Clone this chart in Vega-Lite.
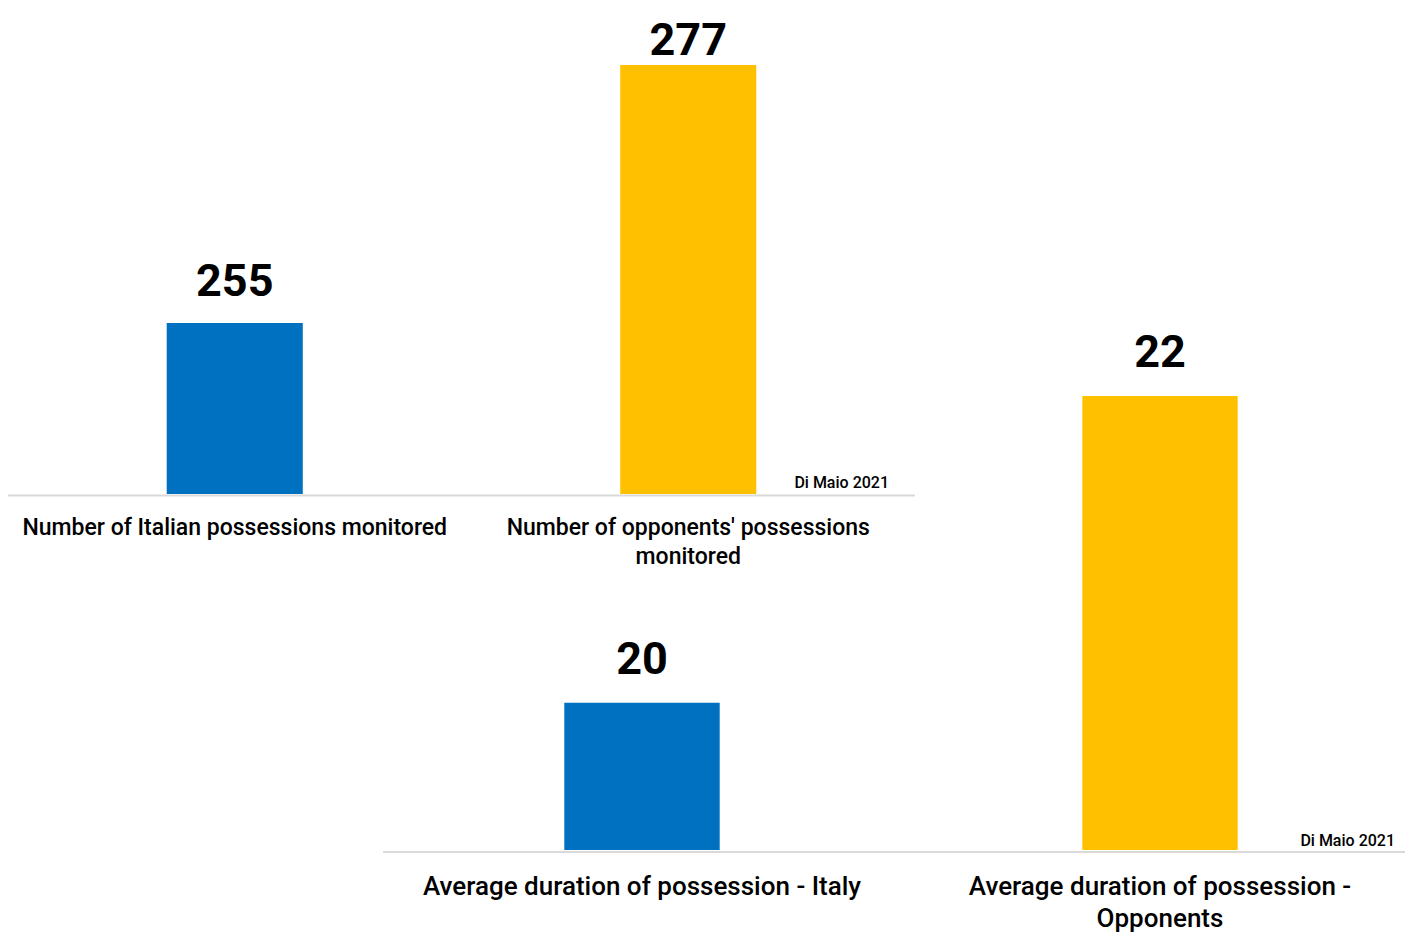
{
  "$schema": "https://vega.github.io/schema/vega-lite/v6.json",
  "width": 1405,
  "height": 934,
  "padding": 0,
  "autosize": {"type": "none"},
  "background": "white",
  "config": {
    "view": {"stroke": null},
    "font": "Roboto",
    "axis": {"disable": true},
    "text": {"color": "#000000"}
  },
  "datasets": {
    "bars": [
      {"panel": "A", "category": "Number of Italian possessions monitored", "team": "Italy", "value": 255},
      {"panel": "A", "category": "Number of opponents' possessions\nmonitored", "team": "Opponents", "value": 277},
      {"panel": "B", "category": "Average duration of possession - Italy", "team": "Italy", "value": 20},
      {"panel": "B", "category": "Average duration of possession -\nOpponents", "team": "Opponents", "value": 22}
    ],
    "notes": [
      {"panel": "A", "note": "Di Maio 2021"},
      {"panel": "B", "note": "Di Maio 2021"}
    ]
  },
  "layer": [
    {
      "layer": [
        {
          "data": {"name": "notes"},
          "transform": [{"filter": "datum.panel === 'A'"}],
          "layer": [
            {
              "mark": {"type": "rule", "color": "#d9d9d9", "strokeWidth": 2},
              "encoding": {
                "x": {"datum": 0, "type": "quantitative", "scale": {"domain": [0, 1], "range": [8, 915]}, "axis": null},
                "x2": {"datum": 1},
                "y": {"datum": 240.3, "type": "quantitative", "axis": null}
              }
            },
            {
              "mark": {"type": "text", "align": "right", "baseline": "alphabetic", "dx": -26, "dy": -6, "fontSize": 16, "fontWeight": 500},
              "encoding": {
                "x": {"datum": 1, "type": "quantitative", "axis": null},
                "y": {"datum": 240.42, "type": "quantitative", "axis": null},
                "text": {"field": "note"}
              }
            }
          ]
        },
        {
          "data": {"name": "bars"},
          "transform": [{"filter": "datum.panel === 'A'"}],
          "encoding": {
            "x": {
              "field": "category", "type": "nominal", "sort": null, "axis": null,
              "scale": {
                "domain": ["Number of Italian possessions monitored", "Number of opponents' possessions\nmonitored"],
                "range": [8, 915], "paddingInner": 0.7, "paddingOuter": 0.35
              }
            }
          },
          "layer": [
            {
              "mark": {"type": "bar"},
              "encoding": {
                "y": {"field": "value", "type": "quantitative", "axis": null, "scale": {"domain": [240.42, 277], "range": [494, 65], "zero": false, "nice": false}},
                "y2": {"datum": 240.42},
                "color": {"field": "team", "type": "nominal", "legend": null, "scale": {"domain": ["Italy", "Opponents"], "range": ["#0070C0", "#FFC000"]}}
              }
            },
            {
              "transform": [{"filter": "datum.value < 270"}],
              "mark": {"type": "text", "baseline": "alphabetic", "dy": -27, "fontSize": 45, "fontWeight": "bold"},
              "encoding": {
                "y": {"field": "value", "type": "quantitative", "axis": null},
                "text": {"field": "value", "type": "quantitative"}
              }
            },
            {
              "transform": [{"filter": "datum.value >= 270"}],
              "mark": {"type": "text", "baseline": "alphabetic", "dy": -10, "fontSize": 45, "fontWeight": "bold"},
              "encoding": {
                "y": {"field": "value", "type": "quantitative", "axis": null},
                "text": {"field": "value", "type": "quantitative"}
              }
            },
            {
              "mark": {"type": "text", "baseline": "alphabetic", "dy": 41, "fontSize": 23, "fontWeight": 500, "lineBreak": "\n", "lineHeight": 29},
              "encoding": {
                "y": {"datum": 240.42, "type": "quantitative", "axis": null},
                "text": {"field": "category"}
              }
            }
          ]
        }
      ],
      "resolve": {"scale": {"x": "independent"}}
    },
    {
      "layer": [
        {
          "data": {"name": "notes"},
          "transform": [{"filter": "datum.panel === 'B'"}],
          "layer": [
            {
              "mark": {"type": "rule", "color": "#d9d9d9", "strokeWidth": 2},
              "encoding": {
                "x": {"datum": 0, "type": "quantitative", "scale": {"domain": [0, 1], "range": [383, 1405]}, "axis": null},
                "x2": {"datum": 1},
                "y": {"datum": 19.027, "type": "quantitative", "axis": null}
              }
            },
            {
              "mark": {"type": "text", "align": "right", "baseline": "alphabetic", "dx": -10, "dy": -4, "fontSize": 16, "fontWeight": 500},
              "encoding": {
                "x": {"datum": 1, "type": "quantitative", "axis": null},
                "y": {"datum": 19.04, "type": "quantitative", "axis": null},
                "text": {"field": "note"}
              }
            }
          ]
        },
        {
          "data": {"name": "bars"},
          "transform": [{"filter": "datum.panel === 'B'"}],
          "encoding": {
            "x": {
              "field": "category", "type": "nominal", "sort": null, "axis": null,
              "scale": {
                "domain": ["Average duration of possession - Italy", "Average duration of possession -\nOpponents"],
                "range": [383, 1419], "paddingInner": 0.7, "paddingOuter": 0.35
              }
            }
          },
          "layer": [
            {
              "mark": {"type": "bar"},
              "encoding": {
                "y": {"field": "value", "type": "quantitative", "axis": null, "scale": {"domain": [19.04, 22], "range": [850, 396], "zero": false, "nice": false}},
                "y2": {"datum": 19.04},
                "color": {"field": "team", "type": "nominal", "legend": null}
              }
            },
            {
              "mark": {"type": "text", "baseline": "alphabetic", "dy": -29, "fontSize": 45, "fontWeight": "bold"},
              "encoding": {
                "y": {"field": "value", "type": "quantitative", "axis": null},
                "text": {"field": "value", "type": "quantitative"}
              }
            },
            {
              "mark": {"type": "text", "baseline": "alphabetic", "dy": 45, "fontSize": 26, "fontWeight": 500, "lineBreak": "\n", "lineHeight": 32},
              "encoding": {
                "y": {"datum": 19.04, "type": "quantitative", "axis": null},
                "text": {"field": "category"}
              }
            }
          ]
        }
      ],
      "resolve": {"scale": {"x": "independent"}}
    }
  ],
  "resolve": {"scale": {"x": "independent", "y": "independent"}}
}
